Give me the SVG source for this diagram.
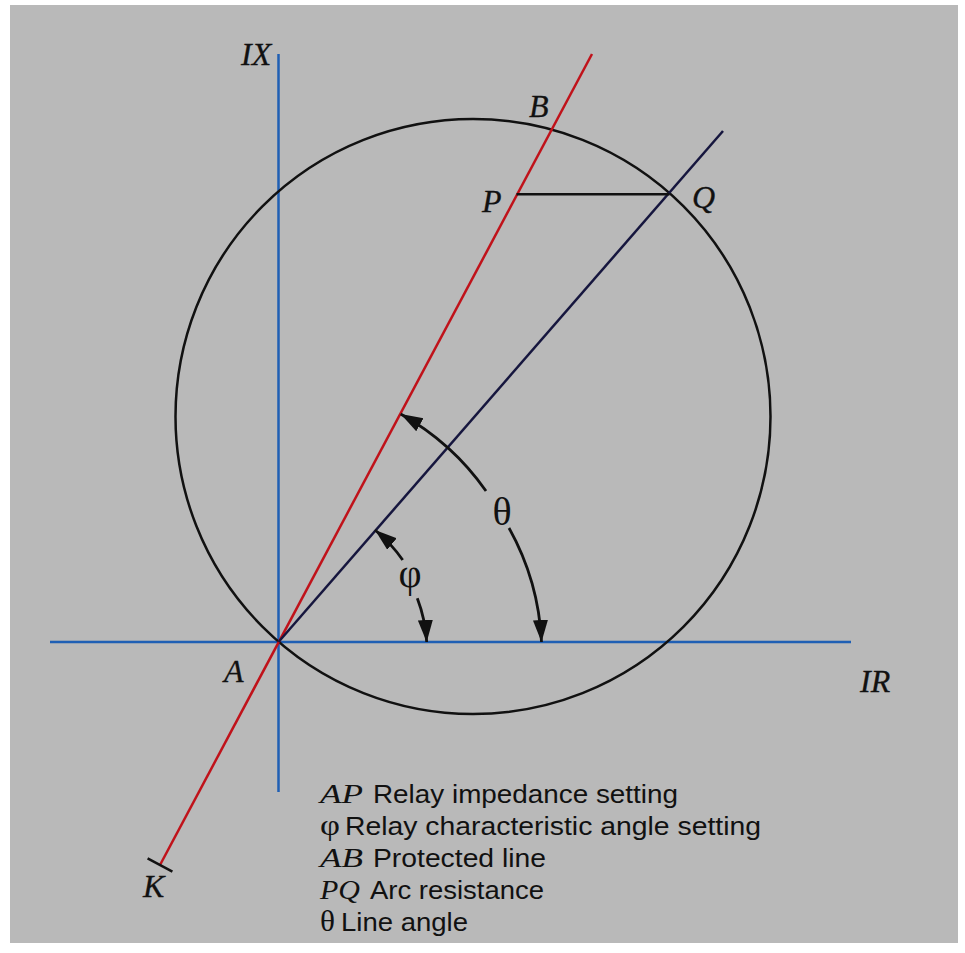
<svg xmlns="http://www.w3.org/2000/svg" width="965" height="953" viewBox="0 0 965 953">
<style>
.lbl{font-family:"Liberation Serif","Times New Roman",serif;font-style:italic;font-size:32px;fill:#111;stroke:#111;stroke-width:0.3}
.grk{font-family:"Liberation Serif","Times New Roman",serif;font-size:40px;fill:#111}
.leg{font-family:"Liberation Sans",Arial,sans-serif;font-size:26px;fill:#111}
.legi{font-family:"Liberation Serif","Times New Roman",serif;font-style:italic;font-size:28px;fill:#111}
.legg{font-family:"Liberation Serif","Times New Roman",serif;font-size:30px;fill:#111}
.axis{stroke:#1f5fb4;stroke-width:2.5;fill:none}
.red{stroke:#c0121a;stroke-width:2.5;fill:none}
.navy{stroke:#16163e;stroke-width:2.5;fill:none}
.blk{stroke:#111;stroke-width:2.5;fill:none}
.arc{stroke:#111;stroke-width:2.8;fill:none;marker-end:url(#ah)}
</style>
<defs>
<marker id="ah" markerUnits="userSpaceOnUse" markerWidth="24" markerHeight="16" refX="22" refY="7.5" orient="auto">
<path d="M0,0 L22,7.5 L0,15 Z" fill="#111"/>
</marker>
</defs>
<rect x="0" y="0" width="965" height="953" fill="#ffffff"/>
<rect x="10" y="5" width="948" height="938" fill="#b9b9b9"/>
<g id="axes">
<line class="axis" x1="278.5" y1="54" x2="278.5" y2="792"/>
<line class="axis" x1="50" y1="642" x2="851" y2="642"/>
</g>
<g id="circle">
<circle class="blk" cx="473" cy="416.5" r="297.5"/>
</g>
<g id="lines">
<line class="red" x1="160" y1="865" x2="592" y2="54"/>
<line class="blk" x1="147.6" y1="858.4" x2="172.4" y2="871.6"/>
<line class="navy" x1="278.5" y1="642" x2="723" y2="131"/>
<line class="blk" x1="516.5" y1="194.3" x2="669.5" y2="194.3"/>
</g>
<g id="connectors">
<path class="arc" d="M486,491 A258,258 0 0 0 400.7,414"/>
<path class="arc" d="M509,528 A259,259 0 0 1 541.5,642"/>
<path class="arc" d="M402.7,560 A148,148 0 0 0 375,530"/>
<path class="arc" d="M417.3,598.3 A148,148 0 0 1 426.7,642"/>
</g>
<g id="labels">
<text class="lbl" x="241" y="65">IX</text>
<text class="lbl" x="529" y="117">B</text>
<text class="lbl" x="482" y="212">P</text>
<text class="lbl" x="692" y="208">Q</text>
<text class="lbl" x="224" y="682">A</text>
<text class="lbl" x="860" y="692">IR</text>
<text class="lbl" x="143" y="897">K</text>
<text class="grk" x="502" y="525" text-anchor="middle">θ</text>
<text class="grk" x="410" y="587" text-anchor="middle">φ</text>
</g>
<g id="legend">
<text class="legi" x="320" y="803" textLength="43" lengthAdjust="spacingAndGlyphs">AP</text>
<text class="leg" x="373" y="803" textLength="305" lengthAdjust="spacingAndGlyphs">Relay impedance setting</text>
<text class="legg" x="320" y="835" textLength="20" lengthAdjust="spacingAndGlyphs">φ</text>
<text class="leg" x="345" y="835" textLength="416" lengthAdjust="spacingAndGlyphs">Relay characteristic angle setting</text>
<text class="legi" x="320" y="867" textLength="43" lengthAdjust="spacingAndGlyphs">AB</text>
<text class="leg" x="373" y="867" textLength="173" lengthAdjust="spacingAndGlyphs">Protected line</text>
<text class="legi" x="320" y="899" textLength="40" lengthAdjust="spacingAndGlyphs">PQ</text>
<text class="leg" x="370" y="899" textLength="174" lengthAdjust="spacingAndGlyphs">Arc resistance</text>
<text class="legg" x="320" y="931" textLength="15" lengthAdjust="spacingAndGlyphs">θ</text>
<text class="leg" x="341" y="931" textLength="127" lengthAdjust="spacingAndGlyphs">Line angle</text>
</g>
</svg>
